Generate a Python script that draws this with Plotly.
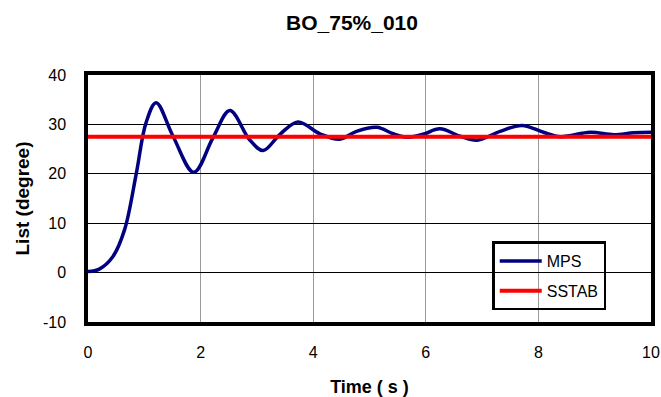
import plotly.graph_objects as go

time_s = [0.0, 0.2, 0.44, 0.65, 0.86, 1.03, 1.21, 1.51, 1.88, 2.22, 2.52, 2.87, 3.11, 3.41,
          3.73, 4.12, 4.47, 4.77, 5.13, 5.42, 5.66, 5.95, 6.25, 6.61, 6.91, 7.32, 7.71,
          8.09, 8.39, 8.92, 9.34, 9.69, 10.0]
mps_list = [0.2, 0.7, 3.2, 8.7, 20.2, 30.3, 34.4, 27.6, 20.3, 27.3, 32.8, 26.9, 24.7, 28.0,
            30.5, 28.1, 27.0, 28.6, 29.4, 28.1, 27.4, 28.0, 29.1, 27.6, 26.8, 28.6, 29.8,
            28.4, 27.5, 28.4, 27.9, 28.3, 28.4]
sstab_time = [0.0, 10.0]
sstab_list = [27.5, 27.5]
y_ticks = [-10, 0, 10, 20, 30, 40]
y_tick_labels = ["-10", "0", "10", "20", "30", "40"]

font = "Liberation Sans, Arial, sans-serif"

fig = go.Figure()
fig.add_trace(go.Scatter(x=time_s, y=mps_list, mode="lines", name="MPS", legendgroup="a",
                         line=dict(color="#000080", width=3.5, shape="spline", smoothing=1.0)))
fig.add_trace(go.Scatter(x=sstab_time, y=sstab_list, mode="lines", name="SSTAB", legendgroup="b",
                         line=dict(color="#ff0000", width=4)))

fig.update_layout(
    width=661, height=397,
    margin=dict(l=88, r=10, t=75, b=75, autoexpand=False),
    paper_bgcolor="white", plot_bgcolor="white",
    font=dict(family=font, color="black", size=16),
    title=dict(text="<b>BO_75%_010</b>", x=352 / 661, xanchor="center", y=1 - 23 / 397, yanchor="middle",
               font=dict(size=21, family=font)),
    showlegend=True,
    legend=dict(x=0.718, y=0.326, xanchor="left", yanchor="top",
                bgcolor="rgba(0,0,0,0)", bordercolor="black", borderwidth=2.5,
                font=dict(size=16, family=font), tracegroupgap=6, itemwidth=42),
)
fig.update_xaxes(range=[0, 10], dtick=2, tick0=0, showgrid=True, gridcolor="#999999", gridwidth=1,
                 showline=True, linecolor="black", linewidth=3.5, mirror=True, ticks="",
                 zeroline=False, automargin=False, ticklabelstandoff=13,
                 title=dict(text="<b>Time ( s )</b>", font=dict(size=18, family=font), standoff=26),
                 tickfont=dict(size=16))
fig.update_yaxes(range=[-10, 40], tickmode="array", tickvals=y_ticks, ticktext=y_tick_labels,
                 showgrid=True, gridcolor="black", gridwidth=1,
                 showline=True, linecolor="black", linewidth=3.5, mirror=True, ticks="",
                 zeroline=False, automargin=False, ticklabelstandoff=15,
                 title=dict(text="<b>List (degree)</b>", font=dict(size=19, family=font), standoff=9),
                 tickfont=dict(size=16))

fig.write_html("out.html")
